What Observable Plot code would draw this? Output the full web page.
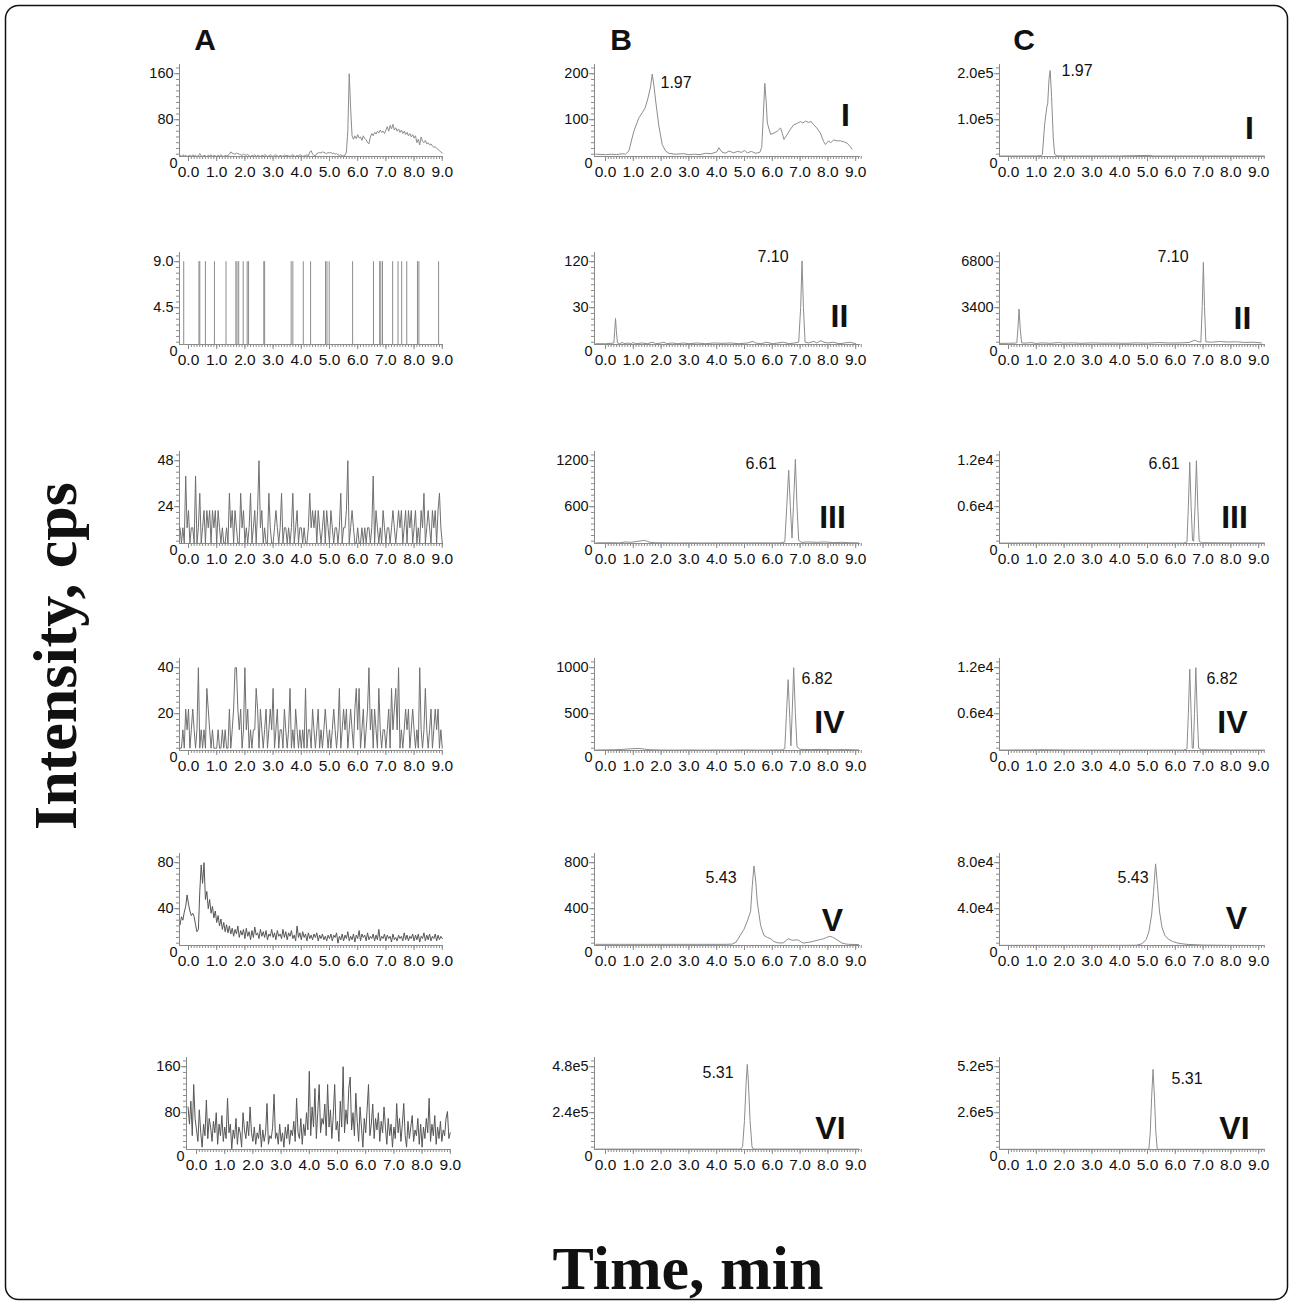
<!DOCTYPE html>
<html><head><meta charset="utf-8">
<script src="https://cdn.jsdelivr.net/npm/d3@7"></script>
<script src="https://cdn.jsdelivr.net/npm/@observablehq/plot@0.6"></script>
<style>
html,body{margin:0;padding:0;background:#fff;}
#page{position:relative;width:1293px;height:1306px;overflow:hidden;background:#fff;}
.panel{position:absolute;}
.panel svg{overflow:visible;background:transparent;}
</style></head><body><div id="page"></div>
<script>
// ---------------- DATA ----------------
const columnLetters = ["A", "B", "C"];
const yAxisTitle = "Intensity, cps";
const xAxisTitle = "Time, min";
const xTickValues = [0, 1, 2, 3, 4, 5, 6, 7, 8, 9];
const xTickLabels = ["0.0", "1.0", "2.0", "3.0", "4.0", "5.0", "6.0", "7.0", "8.0", "9.0"];
const compoundLabels = ["I", "II", "III", "IV", "V", "VI"];
const peakLabelsB = ["1.97", "7.10", "6.61", "6.82", "5.43", "5.31"];
const peakLabelsC = ["1.97", "7.10", "6.61", "6.82", "5.43", "5.31"];

const yTicksA = [[160, 80], [9, 4.5], [48, 24], [40, 20], [80, 40], [160, 80]];
const yTickLabelsA = [["160", "80"], ["9.0", "4.5"], ["48", "24"], ["40", "20"], ["80", "40"], ["160", "80"]];
const yTicksB = [[200, 100], [120, 60], [1200, 600], [1000, 500], [800, 400], [480000, 240000]];
const yTickLabelsB = [["200", "100"], ["120", "30"], ["1200", "600"], ["1000", "500"], ["800", "400"], ["4.8e5", "2.4e5"]];
const yTicksC = [[200000, 100000], [6800, 3400], [12000, 6000], [12000, 6000], [80000, 40000], [520000, 260000]];
const yTickLabelsC = [["2.0e5", "1.0e5"], ["6800", "3400"], ["1.2e4", "0.6e4"], ["1.2e4", "0.6e4"], ["8.0e4", "4.0e4"], ["5.2e5", "2.6e5"]];

// column A: regularly sampled traces (first sample time, sampling interval in min)
const sampleStartA = -0.30;
const sampleStepA = 0.05;
const seriesA1 = [18,16,19,17,18,16,
 17,18,16,19,17,18,16,17,21,17,16,18,17,16,18,17,19,16,18,17,
 16,18,17,19,17,16,18,17,18,20,24,22,21,20,22,21,20,19,18,20,
 19,18,20,17,16,18,17,19,16,18,17,16,18,17,19,18,16,17,19,17,
 16,18,19,17,16,18,17,16,19,17,18,17,16,18,19,17,16,18,17,19,
 18,16,17,18,19,17,24,26,20,18,17,21,22,23,22,24,23,22,21,23,
 22,23,21,22,20,21,19,18,19,17,17,18,24,60,160,100,52,46,52,47,
 54,48,50,44,52,47,45,40,38,50,56,52,58,55,60,57,62,58,60,56,
 62,68,60,70,64,72,62,66,60,64,58,62,56,60,54,58,52,56,50,54,
 48,52,40,46,36,50,42,40,44,38,40,36,38,34,32,33,30,28,26,24,22];
const seriesA2SpikeTimes = [-0.17,0.37,0.40,0.60,0.92,1.33,1.68,1.72,1.78,1.94,2.08,2.13,2.67,2.70,3.64,3.70,4.07,4.33,4.86,4.91,4.99,5.82,6.56,6.78,6.82,6.88,7.24,7.43,7.56,7.74,8.12,8.17,8.87];
const seriesA2SpikeHeight = 9.0;
const seriesA3 = [13,5,13,5,40,13,
 22,5,13,13,5,40,5,13,31,5,13,22,5,22,13,22,5,22,13,22,
 5,22,13,5,13,5,5,13,5,31,13,22,5,22,13,5,5,31,13,22,
 5,13,5,13,31,5,13,22,5,22,48,13,22,5,13,5,5,31,13,5,
 5,13,22,13,5,13,31,5,13,13,5,13,5,13,31,5,13,22,5,13,
 13,5,13,5,5,13,31,13,22,13,22,5,22,13,5,13,22,5,22,13,
 5,22,13,5,13,13,5,13,31,5,13,13,22,48,5,13,22,13,5,5,
 13,5,5,13,5,13,5,13,13,5,13,40,5,22,13,5,13,5,22,13,
 5,13,13,5,13,22,13,5,13,22,13,22,5,13,22,5,22,13,22,5,
 13,22,5,13,5,22,13,31,5,13,22,13,5,22,13,22,5,22,31,13,5];
const seriesA4 = [5,5,13,5,22,13,
 22,5,13,22,13,5,13,40,5,13,5,13,5,31,22,13,5,13,5,5,
 5,13,5,5,13,5,13,5,5,22,5,13,22,40,40,22,13,22,5,13,
 40,13,22,5,13,5,13,13,31,22,5,22,13,5,13,22,5,13,22,13,
 31,5,13,22,5,13,13,5,22,13,5,13,31,5,13,5,22,13,5,13,
 5,13,5,31,5,13,13,5,22,13,5,13,22,5,13,5,13,22,13,5,
 13,5,13,22,13,5,13,31,5,13,22,13,22,5,13,22,13,5,22,31,
 13,31,5,13,22,5,13,22,40,13,22,5,22,13,5,31,13,5,13,13,
 5,13,22,5,31,13,22,31,13,40,5,13,5,13,22,13,22,5,13,22,
 13,5,13,5,40,13,5,13,31,13,5,13,22,5,13,22,13,22,5,13,5];
const seriesA5 = [26,33,30,37,42,52,
 44,38,34,36,33,26,20,22,55,78,62,80,48,55,40,48,36,42,32,38,
 28,34,25,31,22,28,20,26,19,25,18,23,16,22,18,25,15,21,17,22,
 14,23,16,20,13,21,15,24,17,19,14,22,16,20,15,21,13,18,16,22,
 15,19,13,21,16,18,14,22,15,20,13,19,16,21,14,17,12,25,15,19,
 13,20,15,18,12,19,14,17,13,18,15,19,12,17,14,18,13,16,12,17,
 14,18,12,17,15,19,10,16,13,18,12,17,14,20,12,16,13,18,11,17,
 14,21,12,18,15,17,12,19,13,16,14,18,12,17,13,22,12,16,14,18,
 12,17,14,16,11,18,13,15,12,17,14,16,12,19,13,17,12,16,14,18,
 12,17,13,18,11,16,14,19,12,17,13,18,12,16,14,18,12,17,13,16,14];
const seriesA6 = [90,60,100,40,129,70,
 50,30,85,45,20,60,40,102,35,70,55,30,65,45,80,25,60,40,75,30,
 55,35,105,45,60,17,50,35,70,25,55,45,20,80,50,35,65,40,90,45,
 30,55,25,45,35,60,20,50,30,45,96,25,40,35,55,112,35,45,25,60,
 30,45,20,55,35,60,25,50,40,65,30,105,45,35,70,25,60,40,80,50,
 152,40,90,55,122,35,80,129,45,70,60,95,40,129,55,85,35,75,129,50,
 65,30,100,55,160,45,85,60,122,142,50,80,40,114,65,30,90,55,20,70,
 45,85,129,40,60,95,35,70,50,80,30,65,45,90,55,25,70,40,60,20,
 55,35,96,45,70,30,60,96,40,20,65,35,55,75,30,50,40,70,25,60,
 20,55,35,70,45,105,30,60,40,75,25,55,35,65,30,50,40,70,82,35,45];

// columns B and C: [time (min), intensity (cps)]
const seriesB1 = [[-0.35,25],[0.0,24],[0.2,25],[0.4,24],[0.6,26],[0.72,25],[0.84,32],[1.02,75],[1.2,104],[1.32,115],[1.42,125],[1.52,145],[1.62,171],[1.68,199],[1.74,175],[1.8,143],[1.92,86],[2.04,46],[2.16,32],[2.28,27],[2.5,25],[2.8,26],[3.0,24],[3.2,25],[3.4,24],[3.6,27],[3.8,26],[4.0,30],[4.08,39],[4.18,30],[4.3,27],[4.45,32],[4.6,28],[4.75,31],[4.9,29],[5.0,33],[5.1,28],[5.25,31],[5.4,27],[5.55,29],[5.62,40],[5.67,100],[5.73,179],[5.78,140],[5.82,93],[5.94,68],[6.06,71],[6.18,75],[6.3,82],[6.36,70],[6.42,57],[6.54,68],[6.65,79],[6.77,89],[6.9,92],[7.01,96],[7.1,93],[7.2,97],[7.3,94],[7.4,96],[7.49,89],[7.6,82],[7.73,71],[7.85,52],[7.91,46],[8.03,54],[8.1,50],[8.21,56],[8.33,54],[8.45,54],[8.57,52],[8.69,49],[8.8,42],[8.87,36]];
const seriesB2 = [[-0.35,13],[0.0,13],[0.2,13.5],[0.3,14],[0.33,30],[0.36,46],[0.39,30],[0.43,14],[0.5,13],[0.6,14.5],[0.7,13],[0.8,14],[0.9,13],[1.0,14.5],[1.1,13],[1.3,14],[1.5,13],[1.7,15],[1.8,13],[2.0,14],[2.1,15],[2.2,13],[2.4,14],[2.6,13],[2.8,14],[3.0,13],[3.3,14],[3.6,13],[3.9,14],[4.2,13.5],[4.5,14],[4.8,13],[5.1,14],[5.3,16],[5.4,14],[5.6,13],[5.8,15],[6.0,13],[6.2,14],[6.4,15],[6.6,13],[6.8,14],[6.95,15],[7.02,60],[7.07,121],[7.12,60],[7.18,15],[7.3,14],[7.5,16],[7.6,14],[7.75,17],[7.85,15],[8.0,14],[8.2,15],[8.4,13],[8.6,14],[8.8,15],[9.0,13]];
const seriesB3 = [[-0.35,128],[0.2,130],[0.5,128],[0.7,140],[0.9,135],[1.1,145],[1.3,155],[1.4,160],[1.5,150],[1.6,135],[1.8,130],[2.2,128],[2.6,126],[3.0,128],[3.5,126],[4.0,127],[4.5,128],[5.0,127],[5.5,128],[6.0,127],[6.3,128],[6.45,140],[6.52,600],[6.59,1076],[6.65,600],[6.71,190],[6.76,600],[6.83,1218],[6.89,600],[6.95,160],[7.05,135],[7.3,140],[7.6,135],[7.9,140],[8.2,132],[8.5,135],[8.8,130],[9.1,128]];
const seriesB4 = [[-0.35,105],[0.3,108],[0.6,112],[0.9,118],[1.2,122],[1.4,115],[1.6,108],[2.0,105],[2.5,104],[3.0,105],[3.5,104],[4.0,105],[4.5,104],[5.0,105],[5.5,104],[6.0,105],[6.35,106],[6.45,120],[6.51,500],[6.57,870],[6.63,450],[6.67,150],[6.72,550],[6.77,1000],[6.83,500],[6.89,140],[7.0,112],[7.4,110],[7.8,112],[8.2,108],[8.6,110],[9.1,106]];
const seriesB5 = [[-0.35,90],[0.5,90],[1.5,90],[2.5,90],[3.5,90],[4.3,90],[4.56,92],[4.7,110],[4.85,170],[4.98,220],[5.1,290],[5.22,377],[5.28,600],[5.34,771],[5.4,650],[5.46,458],[5.58,255],[5.7,168],[5.82,150],[5.94,139],[6.06,115],[6.18,104],[6.3,102],[6.41,104],[6.5,125],[6.59,139],[6.68,128],[6.77,125],[6.86,130],[6.95,125],[7.05,108],[7.13,101],[7.25,106],[7.37,110],[7.5,118],[7.61,125],[7.73,132],[7.85,139],[7.95,150],[8.07,160],[8.17,152],[8.27,139],[8.4,118],[8.51,101],[8.63,94],[8.75,90],[9.1,88]];
const seriesB6 = [[-0.35,50000],[1,50000],[2,50000],[3,50000],[4,50000],[4.85,50000],[4.93,62000],[5.0,200000],[5.06,400000],[5.1,492000],[5.14,400000],[5.2,200000],[5.27,62000],[5.32,50000],[6,50000],[7,50000],[8,50000],[9.1,50000]];
const seriesC1 = [[-0.3,21000],[0.5,21000],[1.0,21000],[1.18,22000],[1.22,25000],[1.3,90000],[1.38,128000],[1.41,135000],[1.46,190000],[1.5,207000],[1.55,150000],[1.61,60000],[1.66,25000],[1.75,21500],[2.0,21000],[3,21000],[4,21000],[5.1,22500],[5.2,21000],[6,21000],[7,21000],[8,21000],[9.2,21000]];
const seriesC2 = [[-0.3,760],[0.0,770],[0.2,780],[0.3,800],[0.34,1900],[0.38,3300],[0.42,1900],[0.47,800],[0.6,780],[0.8,820],[1.0,760],[1.2,800],[1.5,770],[1.8,820],[2.0,780],[2.3,800],[2.6,770],[3.0,800],[3.4,780],[3.8,790],[4.2,770],[4.6,800],[5.0,780],[5.4,820],[5.8,790],[6.2,800],[6.5,830],[6.7,1000],[6.8,900],[6.92,850],[6.97,3500],[7.01,6750],[7.05,3500],[7.1,880],[7.3,850],[7.6,900],[7.9,860],[8.2,880],[8.5,830],[8.8,850],[9.1,800]];
const seriesC3 = [[-0.3,1250],[1,1260],[2,1250],[3,1250],[4,1250],[5,1250],[6.3,1250],[6.42,1400],[6.47,6000],[6.52,11800],[6.57,6000],[6.62,1600],[6.66,1500],[6.71,6000],[6.76,12000],[6.81,6000],[6.86,1500],[6.95,1300],[7.5,1280],[8,1270],[9.2,1260]];
const seriesC4 = [[-0.3,1250],[0.8,1280],[1.3,1300],[2,1260],[3,1250],[4,1250],[5,1250],[6.3,1250],[6.42,1400],[6.47,6000],[6.52,11800],[6.57,6000],[6.61,1500],[6.65,1500],[6.69,6000],[6.74,12000],[6.79,6000],[6.84,1500],[6.95,1300],[7.5,1270],[8,1260],[9.2,1250]];
const seriesC5 = [[-0.3,8100],[1,8100],[2,8100],[3,8100],[4,8100],[4.6,8200],[4.8,9500],[4.95,13000],[5.05,20000],[5.15,35000],[5.22,55000],[5.29,79000],[5.36,60000],[5.43,38000],[5.52,24000],[5.62,17000],[5.75,13500],[5.9,11500],[6.1,10000],[6.4,9000],[7.0,8300],[8.0,8100],[9.1,8000]];
const seriesC6 = [[-0.3,53000],[1,53000],[2,53000],[3,53000],[4,53000],[5.05,53000],[5.1,150000],[5.15,350000],[5.2,505000],[5.25,350000],[5.3,150000],[5.35,56000],[5.4,53000],[6,53000],[7,53000],[8,53000],[9.2,53000]];

// ---------------- LAYOUT ----------------
const ML = 60, MR = 12, MT = 12, MB = 34, PH = 92;
const rowTopTick = [73, 261, 460, 667, 862, 1066];
const colLayout = [
  {axisX: 179, t0px: 188, ppu: 28.2, xEnd: 9.04},
  {axisX: 594, t0px: 605, ppu: 27.8, xEnd: 9.17},
  {axisX: 999, t0px: 1008, ppu: 27.8, xEnd: 9.24}
];
const romanOffsetsB = [[251,51],[245,64],[238,66],[235,64],[238,67],[236,71]];
const romanOffsetsC = [[250,64],[243,66],[235,66],[233,64],[237,65],[235,71]];
const peakOffsetsB = [[66,18],[163,4],[151,12],[207,20],[111,24],[108,15]];
const peakOffsetsC = [[62,6],[158,4],[149,12],[207,20],[118,24],[172,21]];
const FONT = "'Liberation Sans', Arial, Helvetica, sans-serif";
const axisColor = "#8a8a8a";
const traceLight = "#8c8c8c";
const traceMid = "#6e6e6e";
const traceDark = "#555555";

const page = document.getElementById("page");

// overlay: border, column letters, axis titles
const ns = "http://www.w3.org/2000/svg";
const ov = document.createElementNS(ns, "svg");
ov.setAttribute("width", 1293); ov.setAttribute("height", 1306);
ov.style.position = "absolute"; ov.style.left = "0px"; ov.style.top = "0px";
const border = document.createElementNS(ns, "rect");
Object.entries({x: 5.5, y: 5.5, width: 1282, height: 1294, rx: 13, ry: 13, fill: "none", stroke: "#111", "stroke-width": 1.5}).forEach(([k, v]) => border.setAttribute(k, v));
ov.appendChild(border);
const letterX = [205, 621, 1024];
columnLetters.forEach((L, i) => {
  const t = document.createElementNS(ns, "text");
  t.setAttribute("x", letterX[i]); t.setAttribute("y", 50);
  t.setAttribute("text-anchor", "middle");
  t.setAttribute("style", `font: bold 30px ${FONT}; fill:#111`);
  t.textContent = L; ov.appendChild(t);
});
const yt = document.createElementNS(ns, "text");
yt.setAttribute("transform", "translate(76,656) rotate(-90)");
yt.setAttribute("text-anchor", "middle");
yt.setAttribute("style", "font: bold 62px 'Liberation Serif', 'Times New Roman', serif; fill:#111");
yt.textContent = yAxisTitle; ov.appendChild(yt);
const xt = document.createElementNS(ns, "text");
xt.setAttribute("x", 688); xt.setAttribute("y", 1289);
xt.setAttribute("text-anchor", "middle");
xt.setAttribute("style", "font: bold 62px 'Liberation Serif', 'Times New Roman', serif; fill:#111");
xt.textContent = xAxisTitle; ov.appendChild(xt);
page.appendChild(ov);

function makePanel({col, row, lay, T, ticks, tickLabels, traceMarks, roman, romanOff, peak, peakOff}) {
  const {axisX, t0px, ppu, xEnd} = lay;
  const xStart = (axisX - t0px) / ppu;
  const plotW = (xEnd - xStart) * ppu;
  const base = 0.1 * T, top = 1.1 * T;
  const minorX = d3.range(0, Math.round(xEnd * 10) + 1).map(k => k / 10);
  const minorY = d3.range(2, 18).map(k => k * T / 16);
  const tickData = ticks.map((v, i) => ({v, label: tickLabels[i]}));
  const xLab = xTickValues.map((v, i) => ({v, label: xTickLabels[i]}));
  const marks = [
    Plot.axisX({ticks: minorX, tickSize: 3, tickFormat: () => "", label: null, stroke: axisColor}),
    Plot.axisX({ticks: xTickValues, tickSize: 5, tickFormat: () => "", label: null, stroke: axisColor}),
    Plot.axisY({ticks: minorY, tickSize: 3, tickFormat: () => "", label: null, stroke: axisColor}),
    Plot.axisY({ticks: ticks, tickSize: 5, tickFormat: () => "", label: null, stroke: axisColor}),
    Plot.ruleX([xStart], {y1: base, y2: top, stroke: axisColor}),
    Plot.ruleY([base], {x1: xStart, x2: xEnd, stroke: axisColor}),
    ...traceMarks(base),
    Plot.text(tickData, {y: "v", text: "label", frameAnchor: "left", lineAnchor: "middle", textAnchor: "end", dx: -6, fontSize: 14.5, fill: "#111"}),
    Plot.text(["0"], {text: d => d, frameAnchor: "bottom-left", lineAnchor: "middle", textAnchor: "end", dx: -2, dy: 7, fontSize: 14.5, fill: "#111"}),
    Plot.text(xLab, {x: "v", text: "label", frameAnchor: "bottom", lineAnchor: "middle", dy: 16, fontSize: 15.5, fill: "#111"})
  ];
  if (roman) marks.push(Plot.text([roman], {text: d => d, frameAnchor: "top-left", lineAnchor: "middle", dx: romanOff[0], dy: romanOff[1], textAnchor: "middle", fontSize: 32, fontWeight: "bold", fill: "#111"}));
  if (peak) marks.push(Plot.text([peak], {text: d => d, frameAnchor: "top-left", lineAnchor: "middle", dx: peakOff[0], dy: peakOff[1], textAnchor: "start", fontSize: 16, fill: "#111"}));
  const chart = Plot.plot({
    width: ML + plotW + MR, height: MT + PH + MB,
    marginLeft: ML, marginRight: MR, marginTop: MT, marginBottom: MB,
    x: {domain: [xStart, xEnd], label: null},
    y: {domain: [base, top], label: null},
    style: {fontFamily: FONT, color: axisColor, background: "transparent", overflow: "visible"},
    marks
  });
  const div = document.createElement("div");
  div.className = "panel";
  div.style.left = (axisX - ML) + "px";
  div.style.top = (rowTopTick[row] - PH * 0.1 - MT) + "px";
  div.appendChild(chart);
  page.appendChild(div);
}

const regular = (arr, color) => base => [Plot.line(arr.map((v, i) => ({t: sampleStartA + i * sampleStepA, v})), {x: "t", y: "v", stroke: color, strokeWidth: 1})];
const pairs = (arr) => base => [Plot.line(arr, {x: d => d[0], y: d => d[1], stroke: traceLight, strokeWidth: 1})];

const traceA = [
  regular(seriesA1, traceLight),
  base => [Plot.ruleX(seriesA2SpikeTimes, {x: d => d, y1: base, y2: seriesA2SpikeHeight, stroke: traceLight, strokeWidth: 1})],
  regular(seriesA3, traceMid),
  regular(seriesA4, traceMid),
  regular(seriesA5, traceDark),
  regular(seriesA6, traceDark)
];
const traceB = [seriesB1, seriesB2, seriesB3, seriesB4, seriesB5, seriesB6].map(pairs);
const traceC = [seriesC1, seriesC2, seriesC3, seriesC4, seriesC5, seriesC6].map(pairs);

for (let r = 0; r < 6; r++) {
  const layA = r === 5 ? {axisX: 186, t0px: 196, ppu: 28.2, xEnd: 9.04} : colLayout[0];
  makePanel({col: 0, row: r, lay: layA, T: yTicksA[r][0], ticks: yTicksA[r], tickLabels: yTickLabelsA[r], traceMarks: traceA[r]});
  makePanel({col: 1, row: r, lay: colLayout[1], T: yTicksB[r][0], ticks: yTicksB[r], tickLabels: yTickLabelsB[r], traceMarks: traceB[r], roman: compoundLabels[r], romanOff: romanOffsetsB[r], peak: peakLabelsB[r], peakOff: peakOffsetsB[r]});
  makePanel({col: 2, row: r, lay: colLayout[2], T: yTicksC[r][0], ticks: yTicksC[r], tickLabels: yTickLabelsC[r], traceMarks: traceC[r], roman: compoundLabels[r], romanOff: romanOffsetsC[r], peak: peakLabelsC[r], peakOff: peakOffsetsC[r]});
}
</script></body></html>
